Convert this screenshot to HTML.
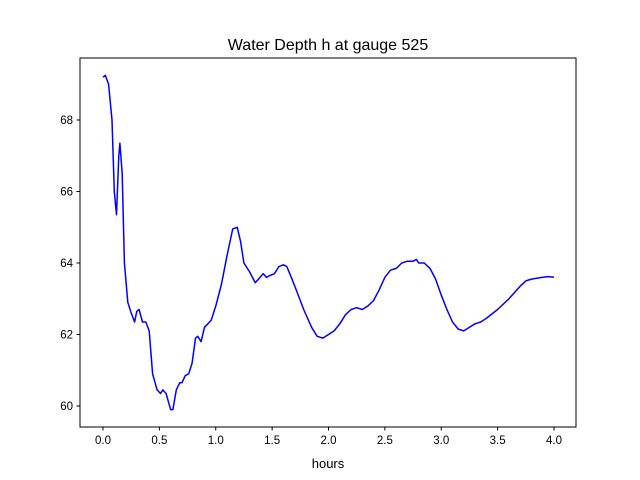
<!DOCTYPE html>
<html><head><meta charset="utf-8"><style>body{margin:0;background:#fff}svg{display:block;font-family:"Liberation Sans","DejaVu Sans",sans-serif}</style></head>
<body>
<svg id="chart" width="640" height="480" xmlns="http://www.w3.org/2000/svg">
<rect width="640" height="480" fill="#fff"/>
<text x="328" y="50" font-size="16" text-anchor="middle">Water Depth h at gauge 525</text>
<g id="axes"></g>
<text x="328" y="468" font-size="13" text-anchor="middle">hours</text>
</svg>
<script>
const hours=[0,0.02,0.05,0.08,0.1,0.12,0.14,0.15,0.17,0.19,0.22,0.25,0.28,0.3,0.32,0.35,0.38,0.41,0.44,0.48,0.51,0.53,0.56,0.6,0.62,0.65,0.68,0.7,0.73,0.76,0.79,0.82,0.84,0.87,0.9,0.93,0.96,1.0,1.05,1.1,1.15,1.19,1.22,1.25,1.3,1.35,1.38,1.42,1.45,1.48,1.52,1.56,1.6,1.63,1.67,1.72,1.78,1.85,1.9,1.95,2.0,2.05,2.1,2.15,2.2,2.25,2.3,2.35,2.4,2.45,2.5,2.55,2.6,2.65,2.7,2.75,2.78,2.8,2.85,2.9,2.95,3.0,3.05,3.1,3.15,3.2,3.25,3.3,3.35,3.4,3.5,3.6,3.7,3.75,3.8,3.9,3.95,4.0];
const depth=[69.2,69.25,69.0,68.0,66.0,65.35,67.0,67.35,66.5,64.0,62.9,62.6,62.35,62.65,62.7,62.35,62.35,62.1,60.9,60.45,60.35,60.45,60.35,59.9,59.9,60.45,60.65,60.65,60.85,60.9,61.2,61.9,61.95,61.8,62.2,62.3,62.4,62.8,63.4,64.2,64.95,65.0,64.6,64.0,63.75,63.45,63.55,63.7,63.6,63.65,63.7,63.9,63.95,63.9,63.6,63.2,62.7,62.2,61.95,61.9,62.0,62.1,62.3,62.55,62.7,62.75,62.7,62.8,62.95,63.25,63.6,63.8,63.85,64.0,64.05,64.05,64.1,64.0,64.0,63.85,63.55,63.1,62.7,62.35,62.15,62.1,62.2,62.3,62.35,62.45,62.7,63.0,63.35,63.5,63.55,63.6,63.62,63.6];
const xTicks=[0,0.5,1,1.5,2,2.5,3,3.5,4];
const yTicks=[60,62,64,66,68];
const NS="http://www.w3.org/2000/svg";
const L=80,R=576,T=58,B=427;
const x=v=>103+v*112.75;
const y=v=>406-(v-60)*35.75;
const g=document.getElementById('axes');
function mk(t,a){const e=document.createElementNS(NS,t);for(const k in a)e.setAttribute(k,a[k]);g.appendChild(e);return e;}
const p=mk('path',{d:hours.map((h,i)=>(i?'L':'M')+x(h).toFixed(1)+','+y(depth[i]).toFixed(1)).join(''),fill:'none',stroke:'#0000ff','stroke-width':1.5,'stroke-linejoin':'round'});


xTicks.forEach(v=>{
 const t=mk('line',{x1:x(v),x2:x(v),y1:B,y2:B+3.5,stroke:'#000'});
 
 
 const s=mk('text',{x:x(v),y:B+17,'font-size':11.5,'text-anchor':'middle'});s.textContent=v.toFixed(1);
 
 
});
yTicks.forEach(v=>{
 const t=mk('line',{x1:L-3.5,x2:L,y1:y(v),y2:y(v),stroke:'#000'});
 
 
 const s=mk('text',{x:L-7,y:y(v)+4,'font-size':11.5,'text-anchor':'end'});s.textContent=v;
 
 
});
const f=mk('rect',{x:L,y:T,width:R-L,height:B-T,fill:'none',stroke:'#000','stroke-width':1});


</script>
</body></html>
